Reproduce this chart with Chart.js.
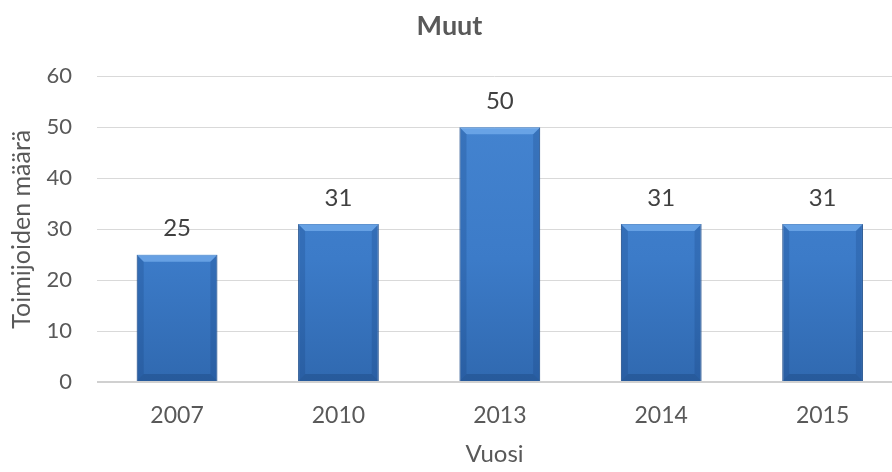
<!DOCTYPE html>
<html><head><meta charset="utf-8">
<script src="https://cdn.jsdelivr.net/npm/chart.js@4"></script>
<style>html,body{margin:0;padding:0;background:#fff;overflow:hidden}</style>
</head><body>
<canvas id="c" width="892" height="472"></canvas>
<script>
const categories = ['2007', '2010', '2013', '2014', '2015'];
const values = [25, 31, 50, 31, 31];
const yTicks = [0, 10, 20, 30, 40, 50, 60];
const chartTitle = 'Muut';
const xTitle = 'Vuosi';
const yTitle = 'Toimijoiden määrä';

const FONT = 'Lato, "Open Sans", sans-serif';

const bevel = {
  id: 'bevel',
  afterDatasetsDraw(chart) {
    const ctx = chart.ctx;
    const meta = chart.getDatasetMeta(0);
    ctx.save();
    meta.data.forEach((el) => {
      const l = el.x - el.width / 2, r = el.x + el.width / 2, t = el.y, b = el.base;
      const d = 7;
      ctx.fillStyle = 'rgba(130,185,245,0.6)';
      ctx.beginPath();
      ctx.moveTo(l, t); ctx.lineTo(r, t); ctx.lineTo(r - d, t + d); ctx.lineTo(l + d, t + d); ctx.closePath(); ctx.fill();
      ctx.fillStyle = 'rgba(20,60,120,0.22)';
      ctx.beginPath();
      ctx.moveTo(l, t); ctx.lineTo(l + d, t + d); ctx.lineTo(l + d, b - d); ctx.lineTo(l, b); ctx.closePath(); ctx.fill();
      ctx.beginPath();
      ctx.moveTo(r, t); ctx.lineTo(r - d, t + d); ctx.lineTo(r - d, b - d); ctx.lineTo(r, b); ctx.closePath(); ctx.fill();
      ctx.fillStyle = 'rgba(20,55,110,0.3)';
      ctx.beginPath();
      ctx.moveTo(l, b); ctx.lineTo(l + d, b - d); ctx.lineTo(r - d, b - d); ctx.lineTo(r, b); ctx.closePath(); ctx.fill();
    });
    ctx.restore();
  }
};

const valueLabels = {
  id: 'valueLabels',
  afterDatasetsDraw(chart) {
    const ctx = chart.ctx;
    const meta = chart.getDatasetMeta(0);
    ctx.save();
    ctx.font = '24px ' + FONT;
    ctx.fillStyle = '#404040';
    ctx.textAlign = 'center';
    ctx.textBaseline = 'middle';
    meta.data.forEach((el, i) => {
      ctx.fillText(String(values[i]), el.x, el.y - 26);
    });
    ctx.restore();
  }
};

function barFill(context) {
  const chart = context.chart;
  const area = chart.chartArea;
  if (!area) return '#3c7cc8';
  const g = chart.ctx.createLinearGradient(0, area.top, 0, area.bottom);
  g.addColorStop(0, '#4686d2');
  g.addColorStop(0.6, '#3c7bc8');
  g.addColorStop(1, '#3069b0');
  return g;
}

new Chart(document.getElementById('c'), {
  type: 'bar',
  data: {
    datasets: [{
      data: values.map((v, i) => ({ x: i, y: v })),
      backgroundColor: barFill,
      borderColor: '#2b5b98',
      borderWidth: 1,
      barPercentage: 0.5,
      categoryPercentage: 1.0
    }]
  },
  options: {
    responsive: false,
    devicePixelRatio: 1,
    animation: false,
    layout: { padding: { left: 7, right: 0, top: 8, bottom: 0 } },
    plugins: {
      legend: { display: false },
      tooltip: { enabled: false },
      title: {
        display: true,
        text: chartTitle,
        color: '#595959',
        font: { family: FONT, size: 27, weight: 'bold' },
        padding: { top: 2, bottom: 34 }
      }
    },
    scales: {
      x: {
        type: 'linear',
        offset: false,
        bounds: 'data',
        min: -0.496,
        max: 4.43,
        afterBuildTicks: (scale) => { scale.ticks = categories.map((c, i) => ({ value: i })); },
        afterFit: (scale) => { scale.height = 90; },
        ticks: {
          callback: (v) => categories[v],
          color: '#595959',
          font: { family: FONT, size: 23 },
          padding: 20,
          autoSkip: false,
          maxRotation: 0
        },
        grid: { display: false, drawTicks: false },
        border: { display: false },
        title: {
          display: true,
          text: xTitle,
          color: '#595959',
          font: { family: FONT, size: 24 },
          padding: { top: 0, bottom: 3 }
        }
      },
      y: {
        min: 0,
        max: 60,
        afterBuildTicks: (scale) => { scale.ticks = yTicks.map(v => ({ value: v })); },
        afterFit: (scale) => { scale.width = 90; },
        ticks: {
          color: '#595959',
          font: { family: FONT, size: 22 },
          padding: 25
        },
        grid: {
          color: (ctx) => ctx.tick && ctx.tick.value === 0 ? '#d0d0d0' : '#d9d9d9',
          lineWidth: (ctx) => ctx.tick && ctx.tick.value === 0 ? 2 : 1,
          drawTicks: false
        },
        border: { display: false },
        title: {
          display: true,
          text: yTitle,
          color: '#595959',
          font: { family: FONT, size: 25 },
          padding: { top: 0, bottom: 0 }
        }
      }
    }
  },
  plugins: [bevel, valueLabels]
});
</script>
</body></html>
